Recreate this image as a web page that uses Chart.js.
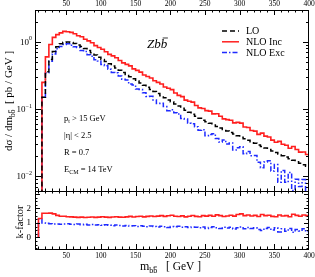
<!DOCTYPE html>
<html>
<head>
<meta charset="utf-8">
<script src="https://cdn.jsdelivr.net/npm/chart.js@4"></script>
<style>
  html, body { margin: 0; padding: 0; background: #fff; }
  #wrap { position: relative; width: 315px; height: 277px; overflow: hidden; }
  canvas { position: absolute; left: 0; }
  #main-chart { top: 0; }
  #kfactor-chart { top: 186px; }
</style>
</head>
<body>
<div id="wrap">
  <canvas id="main-chart" width="315" height="195"></canvas>
  <canvas id="kfactor-chart" width="315" height="91"></canvas>
</div>
<script>
const mainCanvas = document.getElementById("main-chart")
const kCanvas = document.getElementById("kfactor-chart")

// data (bin lower edges in GeV, 5 GeV bins)

const xMin = 5
const xMax = 400

const binEdges = [
  10, 15, 20, 25, 30, 35, 40, 45, 50, 55,
  60, 65, 70, 75, 80, 85, 90, 95, 100, 105,
  110, 115, 120, 125, 130, 135, 140, 145, 150, 155,
  160, 165, 170, 175, 180, 185, 190, 195, 200, 205,
  210, 215, 220, 225, 230, 235, 240, 245, 250, 255,
  260, 265, 270, 275, 280, 285, 290, 295, 300, 305,
  310, 315, 320, 325, 330, 335, 340, 345, 350, 355,
  360, 365, 370, 375, 380, 385, 390, 395,
]

const lo = [
  0.002, 0.15, 0.36, 0.55, 0.72, 0.85, 0.94, 0.99, 1.0, 0.98,
  0.95, 0.9, 0.86, 0.8, 0.75, 0.69, 0.64, 0.59, 0.55, 0.51,
  0.473, 0.44, 0.408, 0.379, 0.352, 0.327, 0.304, 0.282, 0.262, 0.244,
  0.227, 0.211, 0.196, 0.183, 0.17, 0.158, 0.147, 0.137, 0.128, 0.119,
  0.111, 0.103, 0.096, 0.09, 0.084, 0.078, 0.073, 0.068, 0.0645, 0.0612,
  0.058, 0.055, 0.052, 0.0495, 0.047, 0.0446, 0.0423, 0.0401, 0.038, 0.036,
  0.0342, 0.0325, 0.0308, 0.0292, 0.0277, 0.0263, 0.025, 0.0237, 0.0225, 0.0213,
  0.0202, 0.0192, 0.0182, 0.0173, 0.0164, 0.0156, 0.0148, 0.014,
]

const nloInc = [
  0.0026, 0.25, 0.6, 0.92, 1.17, 1.29, 1.37, 1.44, 1.42, 1.39,
  1.33, 1.24, 1.2, 1.1, 1.04, 0.973, 0.883, 0.826, 0.781, 0.714,
  0.653, 0.62, 0.583, 0.531, 0.489, 0.464, 0.441, 0.398, 0.377, 0.356,
  0.322, 0.306, 0.29, 0.264, 0.25, 0.237, 0.213, 0.204, 0.195, 0.174,
  0.16, 0.153, 0.136, 0.131, 0.127, 0.113, 0.104, 0.102, 0.0948, 0.093,
  0.0847, 0.0853, 0.078, 0.0713, 0.0696, 0.0682, 0.0622, 0.0634, 0.0616, 0.054,
  0.053, 0.0478, 0.0468, 0.042, 0.0438, 0.0395, 0.0383, 0.0344, 0.032, 0.033,
  0.0299, 0.0288, 0.026, 0.0277, 0.0249, 0.0228, 0.0229, 0.021,
]

const nloExc = [
  0.0025, 0.15, 0.349, 0.517, 0.662, 0.79, 0.855, 0.921, 0.94, 0.892,
  0.846, 0.828, 0.748, 0.72, 0.645, 0.614, 0.544, 0.519, 0.462, 0.444,
  0.393, 0.352, 0.347, 0.311, 0.278, 0.271, 0.237, 0.228, 0.199, 0.195,
  0.175, 0.154, 0.155, 0.137, 0.121, 0.122, 0.109, 0.0945, 0.0973, 0.0881,
  0.0844, 0.0721, 0.071, 0.0612, 0.0605, 0.0546, 0.0482, 0.049, 0.04, 0.0416,
  0.0429, 0.0363, 0.0322, 0.0347, 0.0301, 0.0312, 0.0245, 0.0265, 0.0274, 0.0216,
  0.0233, 0.0202, 0.0203, 0.0161, 0.0133, 0.0163, 0.017, 0.0119, 0.0149, 0.0081,
  0.0121, 0.0081, 0.0113, 0.0061, 0.009, 0.007, 0.0089, 0.0056,
]

const seriesNames = ["LO", "NLO Inc", "NLO Exc"]
const xTickLabels = [50, 100, 150, 200, 250, 300, 350, 400]
const yTickLabels = [1, 0.1, 0.01]
const yTickExp = ["0", "\u22121", "\u22122"]
const kTickLabels = [0, 1, 2]

// k-factor = NLO / LO
const kInc = nloInc.map((v, i) => v / lo[i])
const kExc = nloExc.map((v, i) => v / lo[i])

const FONT = "'Liberation Serif', 'DejaVu Serif', serif"
const styles = [
  { color: "#000000", dash: [5, 3], width: 1.5 },
  { color: "#ff1f1f", dash: [], width: 1.6 },
  { color: "#1f2bff", dash: [5, 2, 1.5, 2], width: 1.5 },
]

function histPoints(values, baseline) {
  const pts = binEdges.map((x, i) => ({ x: x, y: values[i] }))
  if (baseline !== undefined) pts.unshift({ x: binEdges[0], y: baseline })
  pts.push({ x: xMax, y: values[values.length - 1] })
  return pts
}

function histDataset(values, i, baseline) {
  return {
    label: seriesNames[i],
    data: histPoints(values, baseline),
    borderColor: styles[i].color,
    borderDash: styles[i].dash,
    borderWidth: styles[i].width,
    stepped: true,
    fill: false,
    pointRadius: 0,
    tension: 0,
  }
}

// text with sub/superscripts, p.bar puts an overline on the last letter
function richText(ctx, parts, x, y, align) {
  let total = 0
  parts.forEach((p) => {
    ctx.font = (p.italic ? "italic " : "") + p.size + "px " + FONT
    p.w = ctx.measureText(p.t).width
    total += p.w
  })
  let cx = align === "center" ? x - total / 2 : align === "right" ? x - total : x
  ctx.textAlign = "left"
  ctx.textBaseline = "alphabetic"
  parts.forEach((p) => {
    ctx.font = (p.italic ? "italic " : "") + p.size + "px " + FONT
    const py = y + (p.dy || 0)
    ctx.fillText(p.t, cx, py)
    if (p.bar) {
      const cw = ctx.measureText(p.t.slice(-1)).width
      const shift = p.italic ? cw * 0.2 : 0
      ctx.fillRect(cx + p.w - cw + cw * 0.1 + shift, py - p.size * 0.8, cw * 0.8, Math.max(0.7, p.size * 0.06))
    }
    cx += p.w
  })
}

function frame(ctx, a) {
  ctx.strokeStyle = "#000"
  ctx.lineWidth = 1
  ctx.strokeRect(Math.round(a.left) + 0.5, Math.round(a.top) + 0.5,
    Math.round(a.right - a.left) - 1, Math.round(a.bottom - a.top))
}

function xTickMarks(ctx, a, xs) {
  ctx.beginPath()
  for (let v = 10; v < xMax; v += 10) {
    const px = Math.round(xs.getPixelForValue(v)) + 0.5
    const len = v % 50 === 0 ? 5 : 2.5
    ctx.moveTo(px, a.top); ctx.lineTo(px, a.top + len)
    ctx.moveTo(px, a.bottom); ctx.lineTo(px, a.bottom - len)
  }
  ctx.stroke()
}

function xTickText(ctx, xs, y) {
  ctx.fillStyle = "#000"
  ctx.font = "7.5px " + FONT
  ctx.textAlign = "center"
  ctx.textBaseline = "middle"
  xTickLabels.forEach((v) => ctx.fillText(String(v), xs.getPixelForValue(v), y))
}

// top panel

const mainDecor = {
  id: "mainDecor",
  afterDraw(chart) {
    const { ctx, chartArea: a, scales } = chart
    const xs = scales.x
    const ys = scales.y
    ctx.save()
    frame(ctx, a)
    xTickMarks(ctx, a, xs)

    ctx.beginPath()
    for (let e = -3; e <= 0; e++) {
      for (let m = 1; m <= 9; m++) {
        const v = m * Math.pow(10, e)
        if (v < ys.min || v > ys.max) continue
        const py = Math.round(ys.getPixelForValue(v)) + 0.5
        const len = m === 1 ? 6 : 3
        ctx.moveTo(a.left, py); ctx.lineTo(a.left + len, py)
        ctx.moveTo(a.right, py); ctx.lineTo(a.right - len, py)
      }
    }
    ctx.stroke()

    xTickText(ctx, xs, 4.5)

    ctx.fillStyle = "#000"
    yTickLabels.forEach((v, i) => {
      const py = ys.getPixelForValue(v) + 3
      richText(ctx, [{ t: "10", size: 9 }, { t: yTickExp[i], size: 6, dy: -4.5 }], 32, py, "right")
    })

    // y title
    ctx.save()
    ctx.translate(12, 101)
    ctx.rotate(-Math.PI / 2)
    richText(ctx, [
      { t: "d\u03c3 / dm", size: 11 },
      { t: "bb", size: 7.5, dy: 2.5, bar: true },
      { t: "  [ pb / GeV ]", size: 11 },
    ], 0, 0, "center")
    ctx.restore()

    // process label
    richText(ctx, [{ t: "Zb", size: 13, italic: true }, { t: "b", size: 13, italic: true, bar: true }], 147, 48, "left")

    // legend
    seriesNames.forEach((name, i) => {
      const ly = 31 + i * 10.8
      ctx.strokeStyle = styles[i].color
      ctx.lineWidth = 1.5
      ctx.setLineDash(styles[i].dash)
      ctx.beginPath()
      ctx.moveTo(222, ly); ctx.lineTo(239, ly)
      ctx.stroke()
      ctx.setLineDash([])
      ctx.fillStyle = "#000"
      ctx.font = "10px " + FONT
      ctx.textAlign = "left"
      ctx.textBaseline = "middle"
      ctx.fillText(name, 246, ly + 0.5)
    })

    // cuts
    ctx.fillStyle = "#000"
    richText(ctx, [{ t: "p", size: 8.5 }, { t: "t", size: 6, dy: 2 }, { t: " > 15 GeV", size: 8.5 }], 64, 121, "left")
    richText(ctx, [{ t: "|\u03b7| < 2.5", size: 8.5 }], 64, 138, "left")
    richText(ctx, [{ t: "R = 0.7", size: 8.5 }], 64, 155, "left")
    richText(ctx, [{ t: "E", size: 8.5 }, { t: "CM", size: 6, dy: 2 }, { t: " = 14 TeV", size: 8.5 }], 64, 172, "left")
    ctx.restore()
  },
}

let mainChart = new Chart(mainCanvas, {
  type: "line",
  data: {
    datasets: [histDataset(lo, 0), histDataset(nloInc, 1), histDataset(nloExc, 2)],
  },
  options: {
    responsive: false,
    animation: false,
    devicePixelRatio: 1,
    layout: { padding: { left: 35, right: 6, top: 10, bottom: 4 } },
    scales: {
      x: { type: "linear", min: xMin, max: xMax, display: false },
      y: { type: "logarithmic", min: 0.006, max: 3, display: false },
    },
    plugins: {
      legend: { display: false },
      tooltip: { enabled: false },
    },
  },
  plugins: [mainDecor],
})

// k-factor panel

const kDecor = {
  id: "kDecor",
  afterDraw(chart) {
    const { ctx, chartArea: a, scales } = chart
    const xs = scales.x
    const ys = scales.y
    ctx.save()
    frame(ctx, a)
    xTickMarks(ctx, a, xs)

    ctx.beginPath()
    for (let v = -0.75; v <= 3; v += 0.25) {
      const py = Math.round(ys.getPixelForValue(v)) + 0.5
      const len = Number.isInteger(v) ? 5 : 2.5
      ctx.moveTo(a.left, py); ctx.lineTo(a.left + len, py)
      ctx.moveTo(a.right, py); ctx.lineTo(a.right - len, py)
    }
    ctx.stroke()

    xTickText(ctx, xs, 70)

    ctx.fillStyle = "#000"
    ctx.font = "9px " + FONT
    ctx.textAlign = "right"
    ctx.textBaseline = "middle"
    kTickLabels.forEach((v) => ctx.fillText(String(v), 31, ys.getPixelForValue(v)))

    ctx.save()
    ctx.translate(23, 36)
    ctx.rotate(-Math.PI / 2)
    richText(ctx, [{ t: "k-factor", size: 10.5 }], 0, 0, "center")
    ctx.restore()

    richText(ctx, [
      { t: "m", size: 12 },
      { t: "bb", size: 8, dy: 3, bar: true },
      { t: "   [ GeV ]", size: 11.5 },
    ], 140, 84, "left")
    ctx.restore()
  },
}

let kChart = new Chart(kCanvas, {
  type: "line",
  data: {
    datasets: [histDataset(kInc, 1, 0), histDataset(kExc, 2, 0)],
  },
  options: {
    responsive: false,
    animation: false,
    devicePixelRatio: 1,
    layout: { padding: { left: 35, right: 6, top: 5, bottom: 28 } },
    scales: {
      x: { type: "linear", min: xMin, max: xMax, display: false },
      y: { type: "linear", min: -0.8, max: 3.2, display: false },
    },
    plugins: {
      legend: { display: false },
      tooltip: { enabled: false },
    },
  },
  plugins: [kDecor],
})
</script>
</body>
</html>
